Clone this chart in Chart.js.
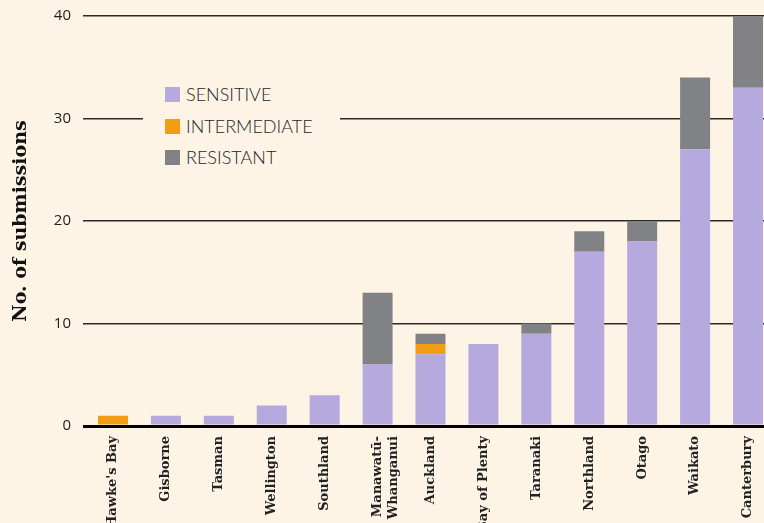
<!DOCTYPE html>
<html>
<head>
<meta charset="utf-8">
<script src="https://cdn.jsdelivr.net/npm/chart.js@4/dist/chart.umd.min.js"></script>
<style>
  html, body { margin: 0; padding: 0; background: #fdf4e6; overflow: hidden; }
  #wrap { position: relative; width: 764px; height: 523px; }
  #legend { position: absolute; left: 143px; top: 80px; width: 197px; height: 92px; background: #fdf4e6; }
  #legend div { position: absolute; left: 22px; height: 20px; font: 300 18px Lato, "Open Sans", sans-serif; color: #1e1e1e; line-height: 20px; white-space: nowrap; }
  #legend span { display: inline-block; width: 15px; height: 15px; vertical-align: -1px; margin-right: 6px; }
</style>
</head>
<body>
<div id="wrap">
  <canvas id="myChart" width="764" height="523"></canvas>
  <div id="legend"></div>
</div>
<script>
// regions along the x axis
var regions = ["Hawke's Bay", "Gisborne", "Tasman", "Wellington", "Southland",
  ["Manawatū-", "Whanganui"], "Auckland", "Bay of Plenty", "Taranaki",
  "Northland", "Otago", "Waikato", "Canterbury"];
// submissions per category
var sensitive    = [0, 1, 1, 2, 3, 6, 7, 8, 9, 17, 18, 27, 33];
var intermediate = [1, 0, 0, 0, 0, 0, 1, 0, 0, 0, 0, 0, 0];
var resistant    = [0, 0, 0, 0, 0, 7, 1, 0, 1, 2, 2, 7, 7];
var yTicks = [0, 10, 20, 30, 40];

var seriesNames = ['SENSITIVE', 'INTERMEDIATE', 'RESISTANT'];
var seriesColors = ['#b5a9dd', '#f29d14', '#818286'];

function toPoints(arr) {
  return arr.map(function (v, i) { return { x: i, y: v }; });
}

var ctx = document.getElementById('myChart').getContext('2d');
var chart = new Chart(ctx, {
  type: 'bar',
  data: {
    datasets: [
      { label: seriesNames[0], data: toPoints(sensitive), backgroundColor: seriesColors[0] },
      { label: seriesNames[1], data: toPoints(intermediate), backgroundColor: seriesColors[1] },
      { label: seriesNames[2], data: toPoints(resistant), backgroundColor: seriesColors[2] }
    ]
  },
  options: {
    responsive: false,
    animation: false,
    barThickness: 30,
    inflateAmount: 0,
    borderWidth: 0,
    layout: { padding: { top: 16, right: 0, left: 0, bottom: 0 } },
    plugins: { legend: { display: false }, tooltip: { enabled: false } },
    scales: {
      x: {
        type: 'linear',
        stacked: true,
        offset: false,
        min: -0.567,
        max: 12.302,
        grid: { display: false, drawTicks: false },
        border: { display: false },
        afterBuildTicks: function (s) {
          s.ticks = regions.map(function (_, i) { return { value: i }; });
        },
        afterFit: function (s) {
          s.height = 97;
          s.paddingLeft = 0;
          s.paddingRight = 0;
        },
        ticks: {
          autoSkip: false,
          minRotation: 90,
          maxRotation: 90,
          padding: 10,
          color: '#222',
          font: { family: 'DejaVu Serif', weight: 'bold', size: 13 },
          callback: function (v) { return regions[v]; }
        }
      },
      y: {
        stacked: true,
        min: 0,
        max: 40,
        afterBuildTicks: function (s) {
          s.ticks = yTicks.map(function (v) { return { value: v }; });
        },
        afterFit: function (s) {
          s.width = 83;
          s.paddingTop = 0;
          s.paddingBottom = 0;
        },
        grid: {
          drawTicks: false,
          color: function (c) { return c.tick && c.tick.value === 0 ? '#000' : '#2a2a2a'; },
          lineWidth: function (c) { return c.tick && c.tick.value === 0 ? 3 : 1.5; }
        },
        border: { display: false },
        ticks: {
          padding: 12,
          color: '#222',
          font: { family: 'Open Sans', size: 15 }
        },
        title: {
          display: true,
          text: 'No. of submissions',
          color: '#111',
          font: { family: 'DejaVu Serif', weight: 'bold', size: 19 },
          padding: { top: 10, bottom: 0 }
        }
      }
    }
  }
});

// legend box inside the plot
var lg = document.getElementById('legend');
seriesNames.forEach(function (name, i) {
  var d = document.createElement('div');
  d.style.top = (4 + i * 31.5) + 'px';
  d.innerHTML = '<span style="background:' + seriesColors[i] + '"></span>' + name;
  lg.appendChild(d);
});
</script>
</body>
</html>
